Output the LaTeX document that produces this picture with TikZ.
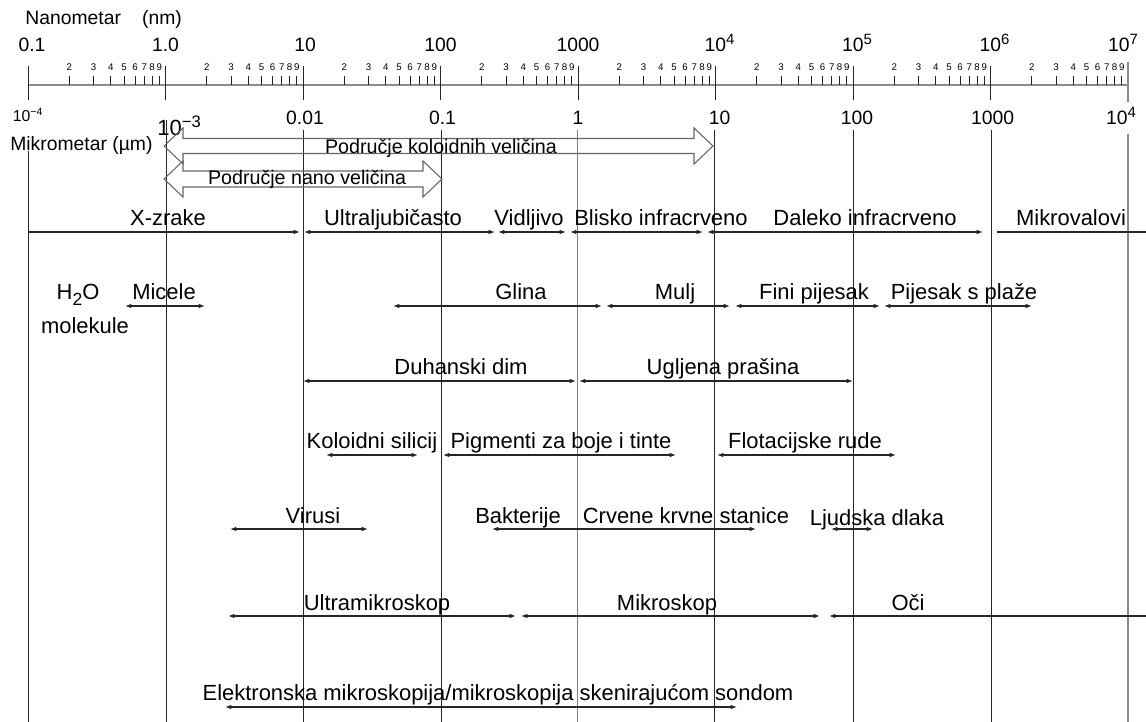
\documentclass[tikz,border=0pt]{standalone}
\usepackage{fontspec}
\setmainfont{Liberation Sans}
\usepackage{tikz}
\usetikzlibrary{arrows.meta}

\newcommand{\tenpow}[1]{10\raisebox{4.5pt}{\fontsize{8.5}{9}\selectfont #1}}

\begin{document}
\begin{tikzpicture}[x=0.02cm, y=-0.02cm, font=\fontsize{12.5}{15}\selectfont,
    hd/.tip={Latex[length=3.6pt,width=2.6pt]},
    rng/.style={draw=black!85, line width=0.6pt, hd-hd},
    vl/.style={draw=black!85, line width=0.55pt},
    hol/.style={draw=black!60, line width=0.6pt},
    lbl/.style={anchor=base, inner sep=0pt},
    lblh/.style={anchor=base, inner sep=0pt, font=\fontsize{11.2}{13}\selectfont},
    num/.style={anchor=base, inner sep=0pt, font=\fontsize{11}{13}\selectfont},
    dig/.style={anchor=base, inner sep=0pt, yshift=3pt, font=\fontsize{5.5}{6}\selectfont}]
    \useasboundingbox (0,0) rectangle (1146,722);

    \node[num, anchor=base west] (nm) at (25,25) {Nanometar\hspace{1.1em}(nm)};
    \node[num, anchor=base west] (um) at (10,151) {Mikrometar (µm)};

    \draw[black!45, line width=1.3pt] (28,85) -- (1128,85);
    \foreach \d in {0,...,7}
        \foreach \k in {2,...,9}
            \draw[vl] ({28+137.5*(\d+log10(\k))},85) -- ++(0,-9) node[dig] (t\d\k) {\k};
    \foreach \d in {0,...,7}
        \draw[vl] ({28+137.5*\d},66) -- ({28+137.5*\d},100);
    \draw[black!45, line width=1.2pt] (1128,62) -- (1128,102);

    \foreach \t/\dx [count=\i from 0] in {0.1/4, 1.0/0, 10/2, 100/0, 1000/0, \tenpow{4}/4, \tenpow{5}/4, \tenpow{6}/4, \tenpow{7}/-5}
        \node[num] (n\i) at ({28+137.5*\i+\dx},52) {\t};
    \node[num, font=\fontsize{9}{10}\selectfont] (b0) at (28,122) {10\textsuperscript{−4}};
    \node[num, anchor=base west, font=\fontsize{12.5}{14}\selectfont] (b1) at (157,136) {10\raisebox{5pt}{\fontsize{9.5}{10}\selectfont −3}};
    \foreach \t/\dx [count=\i from 2] in {0.01/2, 0.1/2, 1/0, 10/4, 100/4, 1000/2, \tenpow{4}/-7}
        \node[num] (b\i) at ({28+137.5*\i+\dx},125) {\t};

    \foreach \x/\y in {28/151, 166/120, 303/130, 441/130, 714/130, 853/130, 991/130}
        \draw[vl] (\x,\y) -- (\x,722);
    \draw[vl, black!50] (577,130) -- (577,722);
    \draw[black!45, line width=1.2pt] (1128,134) -- (1128,722);

    \draw[hol] (164,146) -- (183,128) -- (183,138.5) -- (694,138.5) -- (694,128) -- (713,146) -- (694,164) -- (694,153.5) -- (183,153.5) -- (183,164) -- cycle;
    \node[lblh] (kol) at (441,154) {Područje koloidnih veličina};
    \draw[hol] (164,179) -- (183,161) -- (183,171) -- (423,171) -- (423,161) -- (442,179) -- (423,197) -- (423,187) -- (183,187) -- (183,197) -- cycle;
    \node[lblh] (nano) at (307,185) {Područje nano veličina};

    \coordinate (xz1) at (28,232); \coordinate (xz2) at (300,232);
    \coordinate (uv1) at (304,232); \coordinate (uv2) at (495,232);
    \coordinate (vi1) at (498,232); \coordinate (vi2) at (566,232);
    \coordinate (bi1) at (570,232); \coordinate (bi2) at (703,232);
    \coordinate (di1) at (707,232); \coordinate (di2) at (983,232);
    \coordinate (mv1) at (997,232); \coordinate (mv2) at (1146,232);
    \draw[rng, -hd] (xz1) -- (xz2);
    \draw[rng] (uv1) -- (uv2);
    \draw[rng] (vi1) -- (vi2);
    \draw[rng] (bi1) -- (bi2);
    \draw[rng] (di1) -- (di2);
    \draw[rng, -] (mv1) -- (mv2);
    \node[lbl] (xz) at (168,226) {X-zrake};
    \node[lbl] (uv) at (393,226) {Ultraljubičasto};
    \node[lbl] (vi) at (529,226) {Vidljivo};
    \node[lbl] (bi) at (661,226) {Blisko infracrveno};
    \node[lbl] (di) at (865,226) {Daleko infracrveno};
    \node[lbl] (mv) at (1071,226) {Mikrovalovi};

    \node[lbl] (h2o) at (78,300) {H\raisebox{-3pt}{\fontsize{10}{11}\selectfont 2}O};
    \node[lbl] (mol) at (85,334) {molekule};
    \coordinate (mi1) at (125,306); \coordinate (mi2) at (205,306);
    \coordinate (gl1) at (393,306); \coordinate (gl2) at (602,306);
    \coordinate (mu1) at (606,306); \coordinate (mu2) at (730,306);
    \coordinate (fp1) at (735,306); \coordinate (fp2) at (880,306);
    \coordinate (pp1) at (884,306); \coordinate (pp2) at (1032,306);
    \draw[rng] (mi1) -- (mi2);
    \draw[rng] (gl1) -- (gl2);
    \draw[rng] (mu1) -- (mu2);
    \draw[rng] (fp1) -- (fp2);
    \draw[rng] (pp1) -- (pp2);
    \node[lbl] (mi) at (164,300) {Micele};
    \node[lbl] (gl) at (521,300) {Glina};
    \node[lbl] (mu) at (675,300) {Mulj};
    \node[lbl] (fp) at (814,300) {Fini pijesak};
    \node[lbl] (pp) at (964,300) {Pijesak s plaže};

    \coordinate (dd1) at (303,381); \coordinate (dd2) at (576,381);
    \coordinate (up1) at (579,381); \coordinate (up2) at (853,381);
    \draw[rng] (dd1) -- (dd2);
    \draw[rng] (up1) -- (up2);
    \node[lbl] (dd) at (461,375) {Duhanski dim};
    \node[lbl] (up) at (723,375) {Ugljena prašina};

    \coordinate (ks1) at (326,455); \coordinate (ks2) at (418,455);
    \coordinate (pg1) at (443,455); \coordinate (pg2) at (676,455);
    \coordinate (fr1) at (717,455); \coordinate (fr2) at (896,455);
    \draw[rng] (ks1) -- (ks2);
    \draw[rng] (pg1) -- (pg2);
    \draw[rng] (fr1) -- (fr2);
    \node[lbl] (ks) at (372,449) {Koloidni silicij};
    \node[lbl] (pg) at (561,449) {Pigmenti za boje i tinte};
    \node[lbl] (fr) at (805,449) {Flotacijske rude};

    \coordinate (vr1) at (230,529); \coordinate (vr2) at (368,529);
    \coordinate (bk1) at (492,529); \coordinate (bk2) at (756,529);
    \coordinate (lj1) at (831,529); \coordinate (lj2) at (873,529);
    \draw[rng] (vr1) -- (vr2);
    \draw[rng] (bk1) -- (bk2);
    \draw[rng] (lj1) -- (lj2);
    \node[lbl] (vr) at (313,523) {Virusi};
    \node[lbl] (bk) at (518,523) {Bakterije};
    \node[lbl] (cs) at (686,523) {Crvene krvne stanice};
    \node[lbl] (lj) at (877,526) {Ljudska dlaka};

    \coordinate (um1) at (228,616); \coordinate (um2) at (516,616);
    \coordinate (mk1) at (521,616); \coordinate (mk2) at (820,616);
    \coordinate (oc1) at (829,616); \coordinate (oc2) at (1146,616);
    \draw[rng] (um1) -- (um2);
    \draw[rng] (mk1) -- (mk2);
    \draw[rng, hd-] (oc1) -- (oc2);
    \node[lbl] (umk) at (377,610) {Ultramikroskop};
    \node[lbl] (mk) at (667,610) {Mikroskop};
    \node[lbl] (oc) at (908,610) {Oči};

    \coordinate (em1) at (225,707); \coordinate (em2) at (737,707);
    \draw[rng] (em1) -- (em2);
    \node[lbl] (em) at (498,700) {Elektronska mikroskopija/mikroskopija skenirajućom sondom};
\end{tikzpicture}
\end{document}
